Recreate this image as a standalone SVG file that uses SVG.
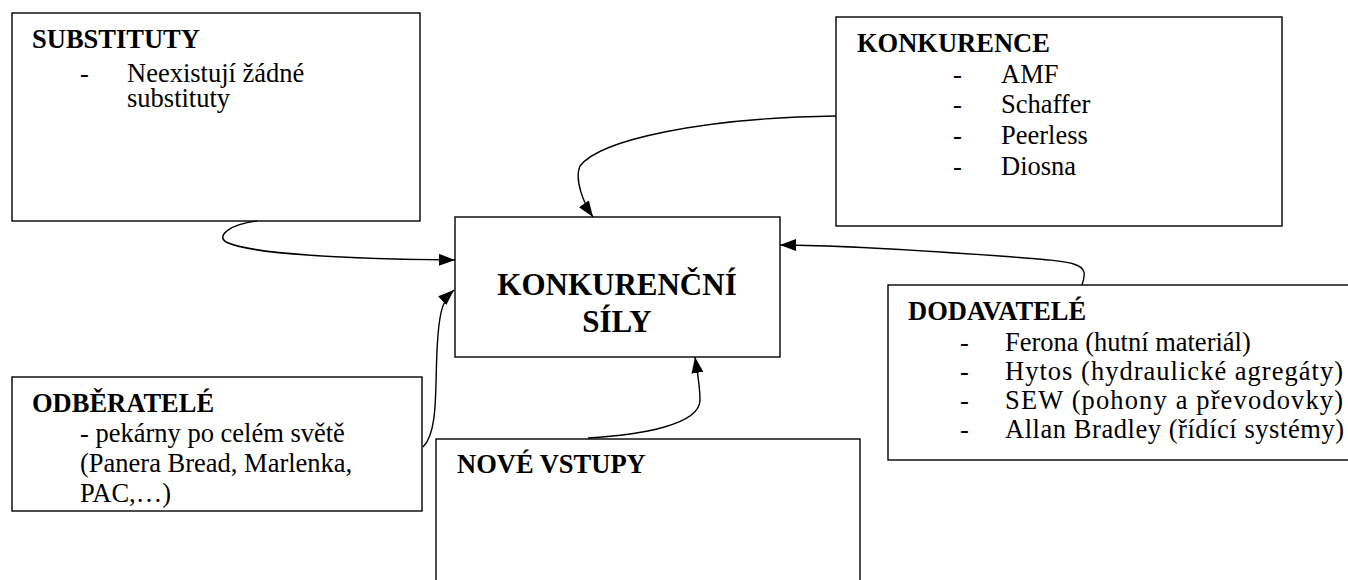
<svg xmlns="http://www.w3.org/2000/svg" width="1348" height="580" viewBox="0 0 1348 580">
<defs>
<marker id="ah" viewBox="0 0 16 12" refX="16" refY="6" markerWidth="16" markerHeight="12" markerUnits="userSpaceOnUse" orient="auto">
<path d="M0,0 L16,6 L0,12 Z" fill="#000"/>
</marker>
<style>
.box{fill:#fff;stroke:#000;stroke-width:1.4}
.h{font-family:"Liberation Serif","Times New Roman",serif;font-weight:bold;font-size:26.5px;fill:#000}
.t{font-family:"Liberation Serif","Times New Roman",serif;font-size:26.5px;fill:#000}
.c{font-family:"Liberation Serif","Times New Roman",serif;font-weight:bold;font-size:31px;fill:#000;text-anchor:middle}
.con{fill:none;stroke:#000;stroke-width:1.4}
</style>
</defs>
<rect width="1348" height="580" fill="#fff"/>
<g id="substituty">
<rect class="box" x="12" y="13" width="408" height="208"/>
<text class="h" x="32" y="48">SUBSTITUTY</text>
<text class="t" x="80" y="82">-</text>
<text class="t"><tspan x="127" y="82">Neexistují žádné</tspan><tspan x="127" y="107">substituty</tspan></text>
</g>
<g id="konkurence">
<rect class="box" x="836" y="17" width="446" height="209"/>
<text class="h" x="857" y="52">KONKURENCE</text>
<text class="t" x="953" y="83">-</text><text class="t" x="1001" y="83">AMF</text>
<text class="t" x="953" y="113">-</text><text class="t" x="1001" y="113">Schaffer</text>
<text class="t" x="953" y="144">-</text><text class="t" x="1001" y="144">Peerless</text>
<text class="t" x="953" y="175">-</text><text class="t" x="1001" y="175">Diosna</text>
</g>
<g id="sily">
<rect class="box" x="455" y="217" width="325" height="140"/>
<text class="c" x="617" y="295">KONKURENČNÍ</text>
<text class="c" x="617" y="332">SÍLY</text>
</g>
<g id="dodavatele">
<rect class="box" x="888" y="285" width="470" height="175"/>
<text class="h" x="908" y="320">DODAVATELÉ</text>
<text class="t" x="960" y="351">-</text><text class="t" x="1005" y="351">Ferona (hutní materiál)</text>
<text class="t" x="960" y="380">-</text><text class="t" x="1005" y="380" textLength="338" lengthAdjust="spacing">Hytos (hydraulické agregáty)</text>
<text class="t" x="960" y="409">-</text><text class="t" x="1005" y="409" textLength="338" lengthAdjust="spacing">SEW (pohony a převodovky)</text>
<text class="t" x="960" y="438">-</text><text class="t" x="1005" y="438" textLength="339" lengthAdjust="spacing">Allan Bradley (řídící systémy)</text>
</g>
<g id="odberatele">
<rect class="box" x="12" y="377" width="410" height="134"/>
<text class="h" x="32" y="412">ODBĚRATELÉ</text>
<text class="t" x="80" y="442">- pekárny po celém světě</text>
<text class="t" x="80" y="472">(Panera Bread, Marlenka,</text>
<text class="t" x="80" y="502">PAC,…)</text>
</g>
<g id="nove-vstupy">
<rect class="box" x="436" y="439" width="424" height="170"/>
<text class="h" x="457" y="473">NOVÉ VSTUPY</text>
</g>
<g id="connectors">
<path class="con" marker-end="url(#ah)" d="M257,221 C230,224 216,236 226,242 C250,254 350,259 455,260"/>
<path class="con" marker-end="url(#ah)" d="M836,116 C700,118 600,140 580,166 C574,180 584,204 593,217"/>
<path class="con" marker-end="url(#ah)" d="M1082,285 C1090,262 1080,262 1000,256 C900,249 830,245 780,245"/>
<path class="con" marker-end="url(#ah)" d="M423,447 C440,430 434,380 438,335 C440,310 443,300 454,290"/>
<path class="con" marker-end="url(#ah)" d="M588,438 C640,435 700,425 700,400 C700,385 697,370 695,357"/>
</g>
</svg>
